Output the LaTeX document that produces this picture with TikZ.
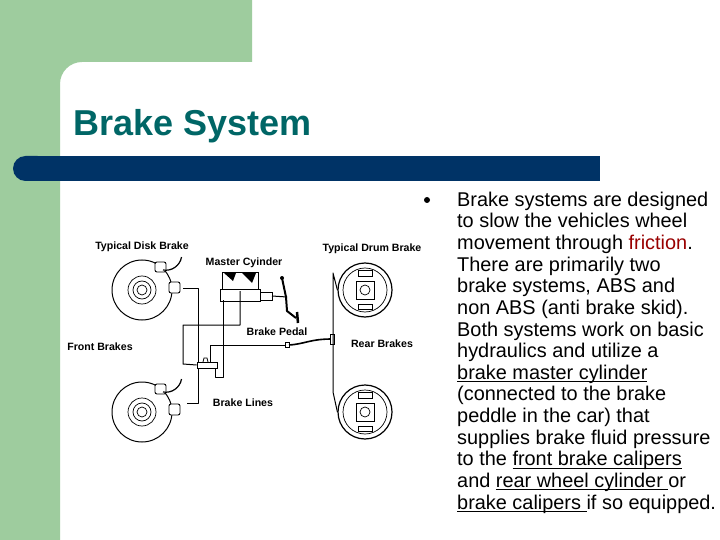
\documentclass[tikz,border=0pt]{standalone}
\usepackage{fontspec}
\setmainfont{Liberation Sans}
\usetikzlibrary{positioning}
\definecolor{slidegreen}{RGB}{158,204,158}
\definecolor{barblue}{RGB}{0,51,102}
\definecolor{titleteal}{RGB}{0,102,102}
\definecolor{fricred}{RGB}{153,0,0}
\newsavebox\ulbox
\newcommand\ulx[1]{\sbox\ulbox{#1}\rlap{\rule[-2.5pt]{\wd\ulbox}{0.8pt}}#1}
\tikzset{
  lbl/.style={font=\bfseries\fontsize{10.6}{11}\selectfont, inner sep=0pt},
  pipe/.style={line width=1pt, line join=round},
  part/.style={draw, line width=0.9pt, fill=white},
}
\begin{document}
\begin{tikzpicture}[x=1pt, y=-1pt]
  \useasboundingbox (0,0) rectangle (720,540);
  \fill[white] (0,0) rectangle (720,540);
  % slide frame
  \fill[slidegreen] (0,540) -- (0,0) -- (252,0) -- (252,62) [rounded corners=22] -- (60,62) [sharp corners] -- (60,540) -- cycle;
  \fill[barblue, rounded corners=12.5] (13,156) rectangle (50,181);
  \fill[barblue] (30,156) rectangle (600,181);
  \node[anchor=base west, inner sep=0pt, text=titleteal, font=\bfseries\fontsize{36}{40}\selectfont] (title) at (73,136) {Brake System};
  % bullet text
  \node[inner sep=0pt, circle, fill=black, minimum size=6pt] (bullet) at (427,200) {};
  \node[anchor=north west, inner sep=0pt, align=left, font=\fontsize{19.9}{21.65}\selectfont] (body) at (457,191.5) {%
    Brake systems are designed\\
    to slow the vehicles wheel\\
    movement through \textcolor{fricred}{friction}.\\
    There are primarily two\\
    brake systems, ABS and\\
    non ABS (anti brake skid).\\
    Both systems work on basic\\
    hydraulics and utilize a\\
    \ulx{brake master cylinder}\\
    (connected to the brake\\
    peddle in the car) that\\
    supplies brake fluid pressure\\
    to the \ulx{front brake calipers}\\
    and \ulx{rear wheel cylinder }or\\
    \ulx{brake calipers }if so equipped.};
  % disk brakes
  \foreach \n/\y in {top/290, bot/412} {
    \node[circle, draw, line width=1pt, minimum size=60pt, inner sep=0pt] (disk\n) at (142,\y) {};
    \draw[line width=0.7pt] (disk\n.center) circle[radius=14] circle[radius=9] circle[radius=5];
    \draw[part, rounded corners=2pt] (155,\y-28) rectangle (166,\y-18);
    \draw[part, rounded corners=2pt] (169,\y-8) rectangle (180,\y+3);
    \draw[line width=1.2pt] (163,\y-20) arc[start angle=100, end angle=10, radius=16];
  }
  % drum brakes
  \foreach \n/\y in {top/290, bot/412} {
    \node[circle, draw, line width=1.2pt, minimum size=54pt, inner sep=0pt] (drum\n) at (365,\y) {};
    \draw[line width=0.7pt] (drum\n.center) circle[radius=22];
    \draw[part] (356,\y-9) rectangle (374,\y+9);
    \draw[line width=0.7pt] (365,\y) circle[radius=5];
    \draw[part] (358,\y-20) rectangle (372,\y-14);
    \draw[part] (358,\y+14) rectangle (372,\y+19);
  }
  % master cylinder and pedal
  \draw[part] (222,272) rectangle (258,289);
  \fill (224,273) -- (236,273) -- (233,281) -- cycle;
  \fill (242,273) -- (256,273) -- (252,283) -- cycle;
  \node[part, minimum width=40pt, minimum height=12pt, inner sep=0pt] (master) at (240,295) {};
  \draw[part] (260,292) rectangle (272,300);
  \draw[line width=1pt] (272,296) -- (287,297);
  \coordinate (pedaltop) at (282,278);
  \fill (pedaltop) circle[radius=2];
  \draw[line width=2pt] (pedaltop) -- (286,297) -- (287,311) -- (296,318);
  \draw[line width=2.5pt] (297,312) -- (298,323);
  % proportioning valve
  \node[part, minimum width=20pt, minimum height=6pt, inner sep=0pt] (valve) at (207,365) {};
  \draw[line width=0.8pt] (203,362) -- (204,358) -- (207,358) -- (208,362);
  % brake lines
  \coordinate (ftop) at (183,288);
  \coordinate (fbot) at (187,403);
  \coordinate (mfront) at (240,291);
  \coordinate (mrear) at (223,300);
  \coordinate (tee) at (332,339);
  \draw[pipe] (ftop) -- (198,288) -- (198,362);
  \draw[pipe] (fbot) -- (198,403) -- (198,368);
  \draw[pipe] (mfront) -- (240,325) -- (183,325) -- (183,364) -- (valve.west);
  \draw[pipe] (mrear) -- (223,377) -- (215,377) -- (215,368);
  \draw[pipe] (210,362) -- (210,345) -- (285,345);
  \draw[line width=0.8pt, fill=white] (285,342.5) rectangle (289,347.5);
  \draw[line width=1.6pt] (289,345) .. controls (305,344) and (310,339) .. (tee);
  \draw[part] (330,334) rectangle (334,344);
  \draw[pipe] (drumtop.west) -- (333,273) -- (333,392) -- (drumbot.west);
  % labels
  \node[lbl] (ldisk) at (142,247) {Typical Disk Brake};
  \node[lbl] (lmaster) at (244,263) {Master Cyinder};
  \node[lbl] (ldrum) at (372,249) {Typical Drum Brake};
  \node[lbl] (lpedal) at (277,332) {Brake Pedal};
  \node[lbl] (lfront) at (100,347) {Front Brakes};
  \node[lbl] (lrear) at (382,344) {Rear Brakes};
  \node[lbl] (llines) at (243,403) {Brake Lines};
\end{tikzpicture}
\end{document}
